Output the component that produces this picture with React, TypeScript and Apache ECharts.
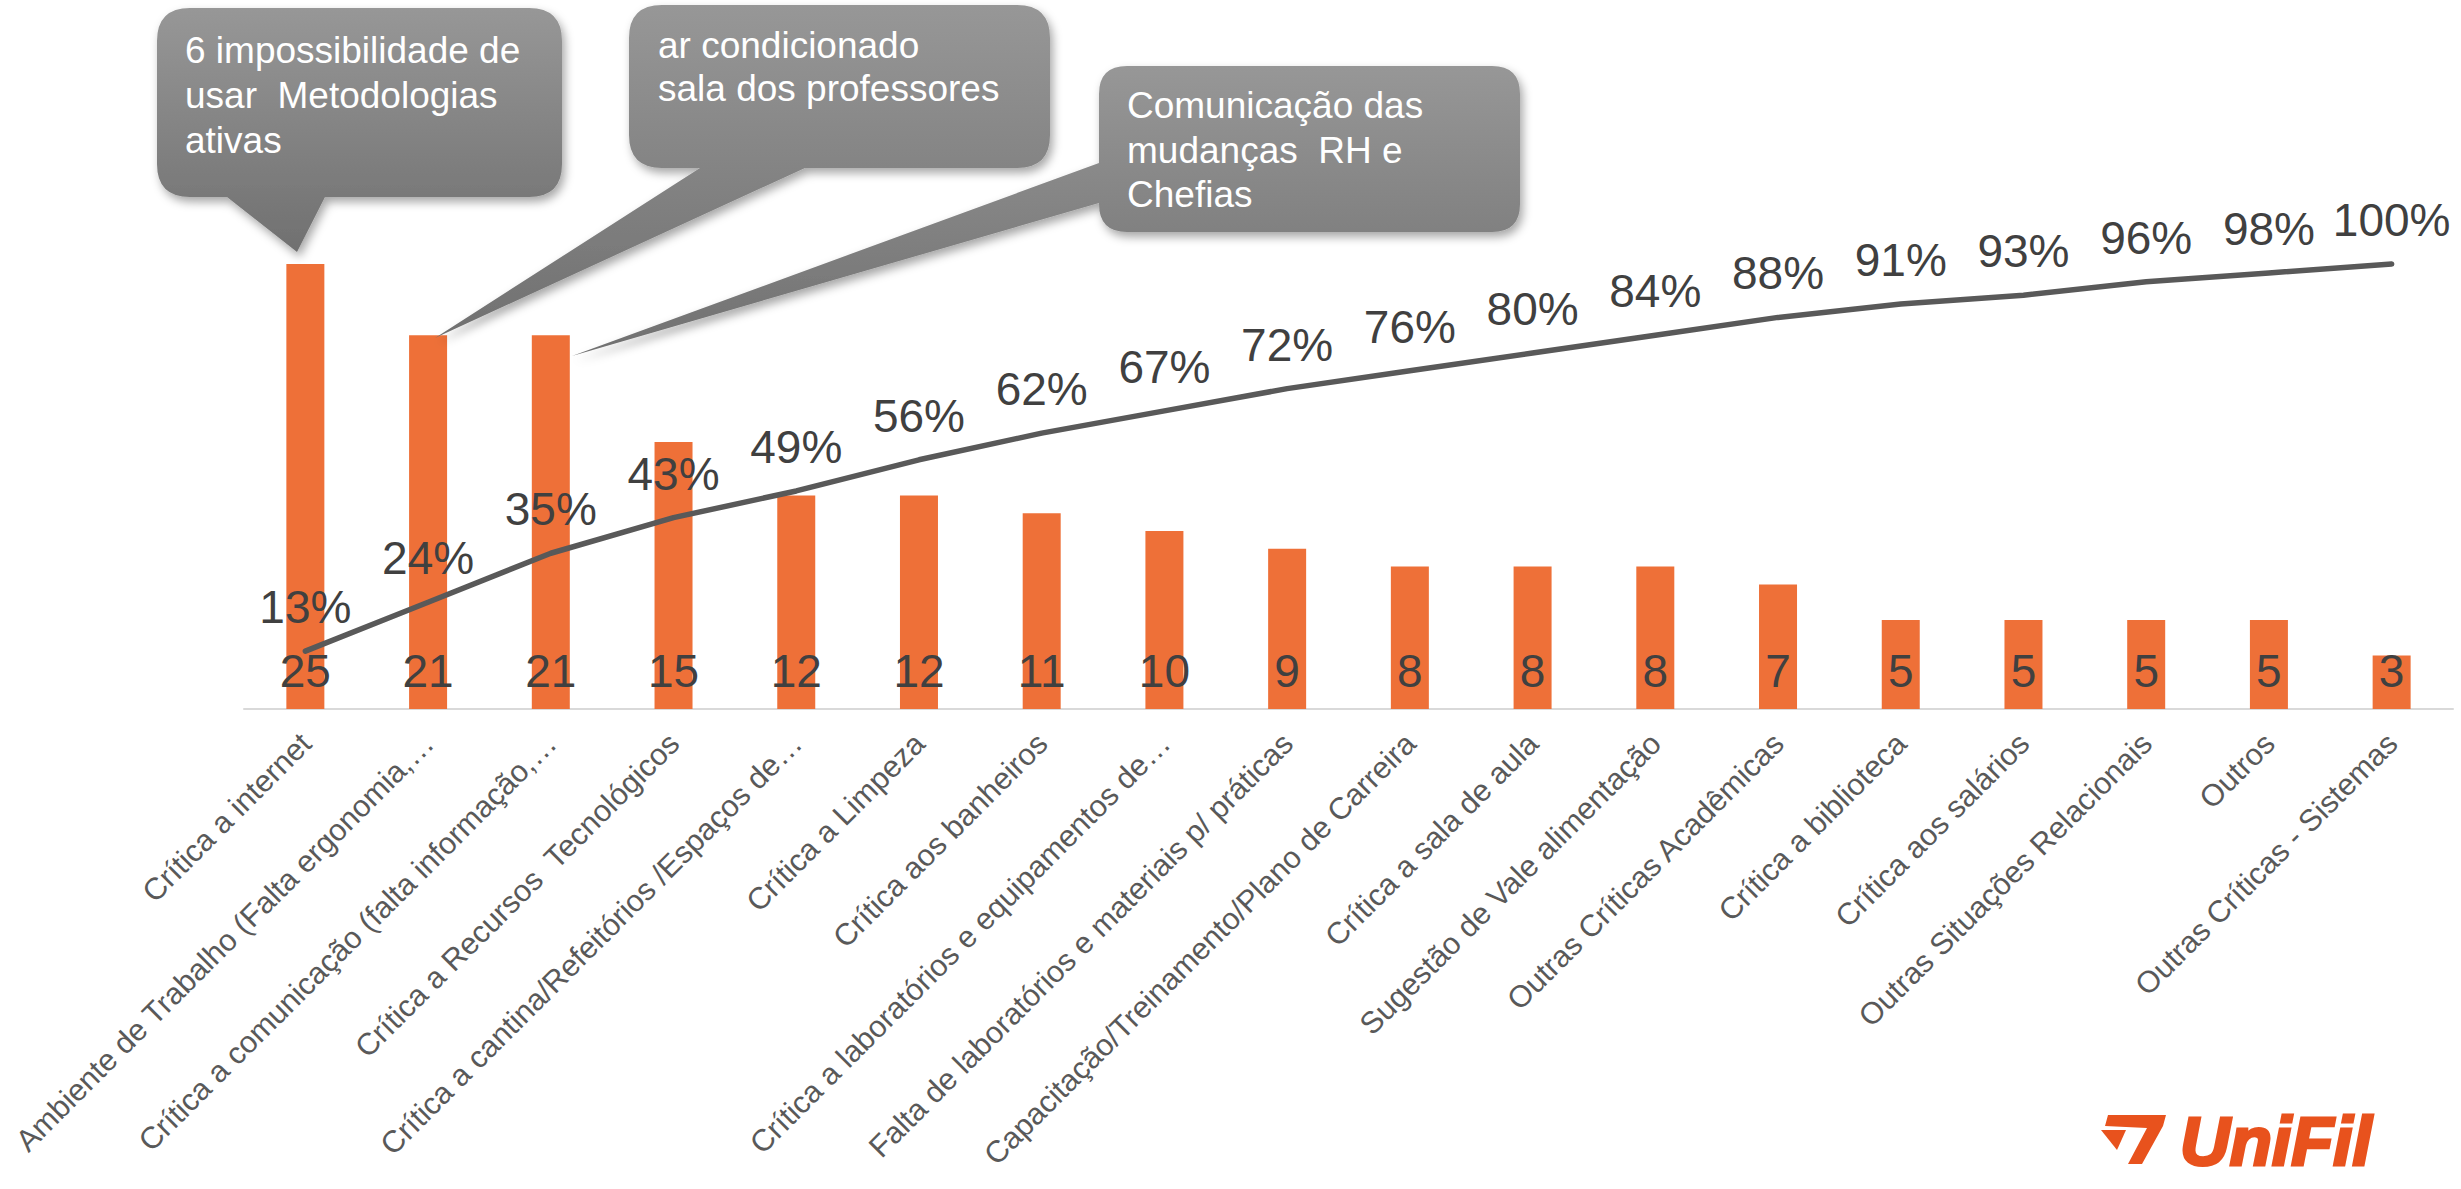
import React, { useEffect, useRef } from "react";
import * as echarts from "echarts";

const categories = [
  "Crítica a internet",
  "Ambiente de Trabalho (Falta ergonomia,…",
  "Crítica a comunicação (falta informação,…",
  "Crítica a Recursos  Tecnológicos",
  "Crítica a cantina/Refeitórios /Espaços de…",
  "Crítica a Limpeza",
  "Crítica aos banheiros",
  "Crítica a laboratórios e equipamentos de…",
  "Falta de laboratórios e materiais p/ práticas",
  "Capacitação/Treinamento/Plano de Carreira",
  "Crítica a sala de aula",
  "Sugestão de Vale alimentação",
  "Outras Críticas Acadêmicas",
  "Crítica a biblioteca",
  "Crítica aos salários",
  "Outras Situações Relacionais",
  "Outros",
  "Outras Críticas - Sistemas",
];

const counts = [25, 21, 21, 15, 12, 12, 11, 10, 9, 8, 8, 8, 7, 5, 5, 5, 5, 3];

const cumulativePct = [13, 24, 35, 43, 49, 56, 62, 67, 72, 76, 80, 84, 88, 91, 93, 96, 98, 100];

const calloutTexts = [
  "6 impossibilidade de\nusar  Metodologias\nativas",
  "ar condicionado\nsala dos professores",
  "Comunicação das\nmudanças  RH e\nChefias",
];

const logoText = "UniFil";

const FONT = '"Liberation Sans", Arial, Helvetica, sans-serif';

const CALLOUT_PATHS = [
  "M 190 8 L 529 8 Q 562 8 562 41 L 562 164 Q 562 197 529 197 L 325 197 L 297 252 L 227 197 L 190 197 Q 157 197 157 164 L 157 41 Q 157 8 190 8 Z",
  "M 662 5 L 1017 5 Q 1050 5 1050 38 L 1050 135 Q 1050 168 1017 168 L 805 168 L 435 338 L 700 168 L 662 168 Q 629 168 629 135 L 629 38 Q 629 5 662 5 Z",
  "M 1127 66 L 1492 66 Q 1520 66 1520 94 L 1520 204 Q 1520 232 1492 232 L 1127 232 Q 1099 232 1099 204 L 1099 203 L 572 356 L 1099 163 L 1099 94 Q 1099 66 1127 66 Z",
];

export default function App() {
  const ref = useRef<HTMLDivElement>(null);

  useEffect(() => {
    if (!ref.current) return;
    CALLOUT_PATHS.forEach((d, i) => {
      echarts.graphic.registerShape("callout" + i, echarts.graphic.extendPath(d, {}) as any);
    });
    const chart = echarts.init(ref.current, undefined, { renderer: "svg" });

    const calloutFill = {
      type: "linear",
      x: 0,
      y: 0,
      x2: 0,
      y2: 1,
      colorStops: [
        { offset: 0, color: "#979797" },
        { offset: 1, color: "#707070" },
      ],
    };
    const calloutStyle = {
      fill: calloutFill,
      shadowBlur: 10,
      shadowOffsetX: 3,
      shadowOffsetY: 5,
      shadowColor: "rgba(0,0,0,0.35)",
    };
    const textPos = [
      { x: 185, y: 27.5, lh: 45 },
      { x: 658, y: 23.5, lh: 43 },
      { x: 1127, y: 83.5, lh: 44.5 },
    ];

    const graphic: any[] = [];
    CALLOUT_PATHS.forEach((_, i) => {
      graphic.push({ type: "callout" + i, x: 0, y: 0, z: 10, style: calloutStyle, silent: true });
    });
    calloutTexts.forEach((t, i) => {
      graphic.push({
        type: "text",
        x: textPos[i].x,
        y: textPos[i].y,
        z: 11,
        style: {
          text: t,
          fill: "#ffffff",
          font: `37px ${FONT}`,
          lineHeight: textPos[i].lh,
          verticalAlign: "top",
          align: "left",
        },
      });
    });
    // logo emblem
    graphic.push({
      type: "polygon",
      z: 10,
      shape: {
        points: [
          [2108, 1115],
          [2166, 1115],
          [2163, 1126],
          [2142, 1164],
          [2128, 1164],
          [2147, 1128],
          [2105, 1126],
        ],
      },
      style: { fill: "#E8521D" },
    });
    graphic.push({
      type: "polygon",
      z: 10,
      shape: {
        points: [
          [2101, 1130],
          [2126, 1130],
          [2117, 1150],
        ],
      },
      style: { fill: "#E8521D" },
    });
    graphic.push({
      type: "text",
      x: 2180,
      y: 1141,
      z: 10,
      style: {
        text: logoText,
        fill: "#E8521D",
        stroke: "#E8521D",
        lineWidth: 3,
        font: `italic bold 69px ${FONT}`,
        verticalAlign: "middle",
        align: "left",
      },
    });

    const option: any = {
      animation: false,
      backgroundColor: "#ffffff",
      textStyle: { fontFamily: FONT },
      grid: { left: 244, right: 8, top: 175, bottom: 480, containLabel: false },
      xAxis: {
        type: "category",
        data: categories,
        axisLine: { show: true, lineStyle: { color: "#d9d9d9", width: 2 } },
        axisTick: { show: false },
        axisLabel: {
          rotate: 45,
          interval: 0,
          fontSize: 30.5,
          color: "#595959",
          margin: 29,
          fontFamily: FONT,
        },
      },
      yAxis: [
        { type: "value", min: 0, max: 30, show: false },
        { type: "value", min: 0, max: 120, show: false },
      ],
      series: [
        {
          type: "bar",
          data: counts,
          barWidth: 38,
          itemStyle: { color: "#EE7038" },
          label: {
            show: true,
            position: "insideBottom",
            distance: 15,
            fontSize: 46,
            color: "#404040",
            fontFamily: FONT,
          },
        },
        {
          type: "line",
          yAxisIndex: 1,
          data: cumulativePct,
          smooth: false,
          symbol: "circle",
          symbolSize: 2,
          itemStyle: { color: "#595959" },
          lineStyle: { color: "#595959", width: 5.5, cap: "round" },
          label: {
            show: true,
            position: "top",
            distance: 20,
            fontSize: 46,
            color: "#404040",
            fontFamily: FONT,
            formatter: (p: any) => p.value + "%",
          },
          z: 3,
        },
      ],
      graphic,
    };
    chart.setOption(option);
    return () => chart.dispose();
  }, []);

  return (
    <div
      ref={ref}
      style={{ position: "fixed", left: 0, top: 0, width: 2461, height: 1189, background: "#fff" }}
    />
  );
}
